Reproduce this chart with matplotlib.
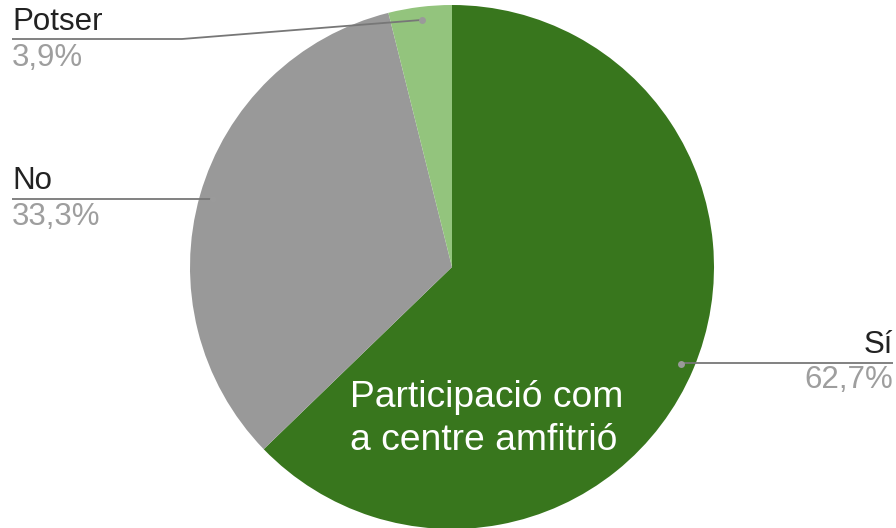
import numpy as np
import matplotlib
matplotlib.use("Agg")
import matplotlib.pyplot as plt

plt.rcParams['font.family'] = ['Liberation Sans', 'DejaVu Sans']

categories = ["Sí", "No", "Potser"]
values = [62.7, 33.3, 3.9]
pct_labels = ["62,7%", "33,3%", "3,9%"]
colors = ["#38761d", "#999999", "#93c47d"]
center_title = ["Participació com", "a centre amfitrió"]

W, H = 896, 528
fig = plt.figure(figsize=(W / 100, H / 100), dpi=100)
ax = fig.add_axes([0, 0, 1, 1])
ax.set_xlim(0, W)
ax.set_ylim(0, H)
ax.set_aspect('equal')
ax.axis('off')

cx, cy, R = 452, H - 267, 262
wedges, _ = ax.pie(values, colors=colors, startangle=90, counterclock=False,
                   center=(cx, cy), radius=R, wedgeprops=dict(linewidth=0),
                   frame=True)
ax.set_xlim(0, W)
ax.set_ylim(0, H)
ax.axis('off')

label_col = "#222222"
pct_col = "#9e9e9e"
line_col = "#777777"
fs = 22.5

# label layout: (text x, label baseline y px, pct baseline y px, line y px, align, elbow x)
layout = {
    "Sí": (893, 353, 388, 363, 'right', None),
    "No": (12, 189, 225, 199, 'left', None),
    "Potser": (12, 30, 66, 39, 'left', 182),
}

for w, cat, pct in zip(wedges, categories, pct_labels):
    ang = np.deg2rad((w.theta1 + w.theta2) / 2)
    dx = cx + 0.95 * R * np.cos(ang)
    dy = cy + 0.95 * R * np.sin(ang)
    tx, lb, pb, ly, ha, elbow = layout[cat]
    ly_d = H - ly
    if elbow is None:
        xs = [dx, tx]
        ys = [ly_d, ly_d]
    else:
        xs = [dx, elbow, tx]
        ys = [dy, ly_d, ly_d]
    ax.plot(xs, ys, color=line_col, lw=1.3, solid_capstyle='butt', zorder=3)
    ax.plot([dx], [dy], 'o', color="#9a9a9a", ms=5, mew=0, zorder=4)
    ax.text(tx, H - lb, cat, ha=ha, va='baseline', fontsize=fs, color=label_col)
    ax.text(tx, H - pb, pct, ha=ha, va='baseline', fontsize=fs, color=pct_col)

ax.text(350, H - 407, center_title[0], ha='left', va='baseline', fontsize=26.8, color='white', zorder=5)
ax.text(350, H - 450, center_title[1], ha='left', va='baseline', fontsize=26.8, color='white', zorder=5)

fig.savefig("out.png", dpi=100, facecolor='white')
